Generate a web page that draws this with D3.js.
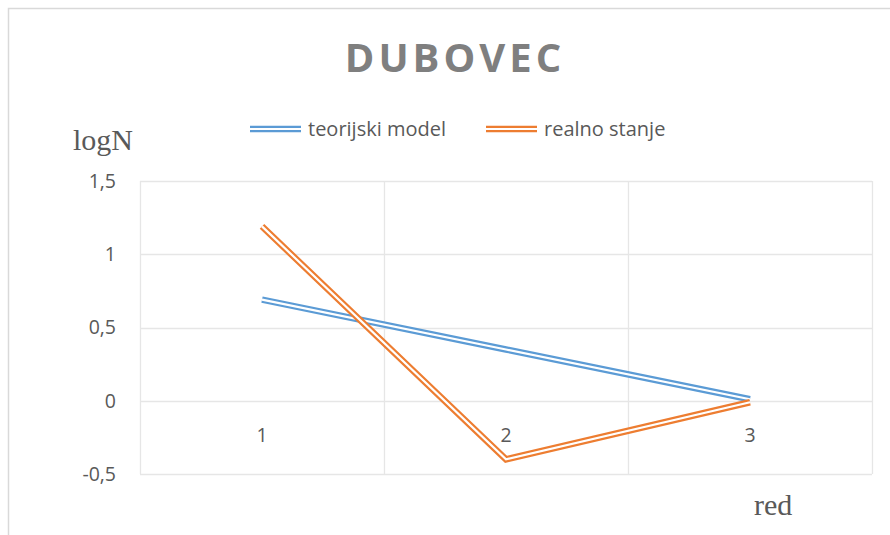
<!DOCTYPE html>
<html>
<head>
<meta charset="utf-8">
<script src="https://cdn.jsdelivr.net/npm/d3@7/dist/d3.min.js"></script>
<style>
  html, body { margin: 0; padding: 0; background: #fff; }
  svg { display: block; }
</style>
</head>
<body>
<script>
// Chart data
const categories = ["1", "2", "3"];
const teorijskiModel = [0.69, 0.35, 0.01];
const realnoStanje = [1.19, -0.40, -0.01];
const yTicks = [-0.5, 0, 0.5, 1, 1.5];
const seriesNames = ["teorijski model", "realno stanje"];
const seriesColors = ["#5b9bd5", "#ed7d31"];

const W = 890, H = 535;
const plot = { left: 140, right: 872, top: 181, bottom: 474 };
const sans = "Open Sans, Noto Sans, sans-serif";
const serif = "Liberation Serif, Times New Roman, serif";

const svg = d3.select("body").append("svg")
  .attr("width", W).attr("height", H);

// Outer chart frame
svg.append("path")
  .attr("d", `M8.5,${H} V8.5 H${W}`)
  .attr("fill", "none").attr("stroke", "#d9d9d9").attr("stroke-width", 1.5);

const x = d3.scaleBand().domain(categories).range([plot.left, plot.right]);
const y = d3.scaleLinear().domain([-0.5, 1.5]).range([plot.bottom, plot.top]);

// Horizontal gridlines
svg.append("g").selectAll("line").data(yTicks).join("line")
  .attr("x1", plot.left).attr("x2", plot.right)
  .attr("y1", d => Math.round(y(d)) + 0.5).attr("y2", d => Math.round(y(d)) + 0.5)
  .attr("stroke", "#e6e6e6").attr("stroke-width", 1.3);

// Vertical gridlines at category boundaries
const bounds = categories.map(c => x(c)).concat([x(categories[categories.length - 1]) + x.bandwidth()]);
svg.append("g").selectAll("line").data(bounds).join("line")
  .attr("x1", d => Math.round(d) + 0.5).attr("x2", d => Math.round(d) + 0.5)
  .attr("y1", plot.top).attr("y2", plot.bottom)
  .attr("stroke", "#e6e6e6").attr("stroke-width", 1.3);

// Y axis tick labels
const fmt = d => String(d).replace(".", ",");
svg.append("g").selectAll("text").data(yTicks).join("text")
  .attr("x", 116).attr("y", d => y(d))
  .attr("dy", "0.35em")
  .attr("text-anchor", "end")
  .attr("font-family", sans)
  .attr("font-size", 19.5)
  .attr("fill", "#595959")
  .text(fmt);

// Category labels, placed just under the zero line
svg.append("g").selectAll("text").data(categories).join("text")
  .attr("x", d => x(d) + x.bandwidth() / 2)
  .attr("y", y(0) + 34)
  .attr("dy", "0.35em")
  .attr("text-anchor", "middle")
  .attr("font-family", sans)
  .attr("font-size", 19.5)
  .attr("fill", "#595959")
  .text(d => d);

// Double-stroke line: wide coloured stroke with a thin white core
function doubleLine(g, d, color) {
  g.append("path").attr("d", d).attr("fill", "none")
    .attr("stroke", color).attr("stroke-width", 6.5)
    .attr("stroke-linejoin", "miter");
  g.append("path").attr("d", d).attr("fill", "none")
    .attr("stroke", "#fff").attr("stroke-width", 2.2)
    .attr("stroke-linejoin", "miter");
}

const line = d3.line()
  .x((v, i) => x(categories[i]) + x.bandwidth() / 2)
  .y(v => y(v));

const gLines = svg.append("g");
[teorijskiModel, realnoStanje].forEach((vals, k) => {
  doubleLine(gLines, line(vals), seriesColors[k]);
});

// Title
svg.append("text")
  .attr("x", 455).attr("y", 72)
  .attr("text-anchor", "middle")
  .attr("font-family", sans)
  .attr("font-weight", "bold")
  .attr("font-size", 40)
  .attr("letter-spacing", 4)
  .attr("fill", "#7f7f7f")
  .text("DUBOVEC");

// Legend
const legendX = [250, 486];
seriesNames.forEach((name, k) => {
  const lg = svg.append("g");
  doubleLine(lg, `M${legendX[k]},129 H${legendX[k] + 51}`, seriesColors[k]);
  lg.append("text")
    .attr("x", legendX[k] + 58).attr("y", 129)
    .attr("dy", "0.35em")
    .attr("font-family", sans)
    .attr("font-size", 20)
    .attr("fill", "#595959")
    .text(name);
});

// Axis titles
svg.append("text")
  .attr("x", 73).attr("y", 150)
  .attr("font-family", serif)
  .attr("font-size", 30)
  .attr("fill", "#595959")
  .text("logN");

svg.append("text")
  .attr("x", 754).attr("y", 515)
  .attr("font-family", serif)
  .attr("font-size", 30)
  .attr("fill", "#595959")
  .text("red");
</script>
</body>
</html>
